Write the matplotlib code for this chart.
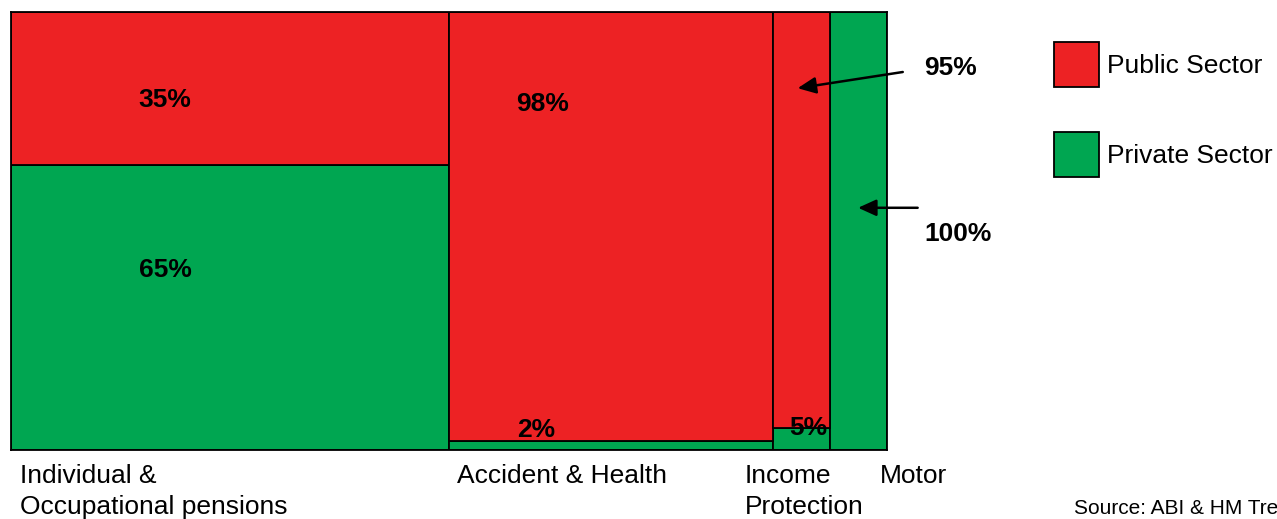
import numpy as np
import matplotlib.pyplot as plt

plt.rcParams['font.family'] = ['Liberation Sans', 'DejaVu Sans']

# market segments, column width = share of total premiums (%)
segments = ['Individual &\nOccupational pensions', 'Accident & Health', 'Income\nProtection', 'Motor']
widths = [50.0, 37.0, 6.5, 6.5]
public = [35, 98, 95, 0]
private = [65, 2, 5, 100]

RED = '#ED2224'
GREEN = '#00A651'

fig = plt.figure(figsize=(12.77, 5.19), dpi=100)
ax = fig.add_axes([11/1277, 69/519, 876/1277, 438/519])

lefts = np.concatenate([[0], np.cumsum(widths)[:-1]])
b_priv = ax.bar(lefts, private, width=widths, align='edge', color=GREEN,
                edgecolor='black', linewidth=1.3, label='Private Sector')
b_pub = ax.bar(lefts, public, width=widths, bottom=private, align='edge', color=RED,
               edgecolor='black', linewidth=1.3, label='Public Sector')

ax.set_xlim(0, sum(widths))
ax.set_ylim(0, 100)
ax.set_xticks([])
ax.set_yticks([])
for s in ax.spines.values():
    s.set_linewidth(1.3)

fs = 19
lab = dict(fontsize=fs, fontweight='bold', ha='center', va='center')
ax.text(17.6, 79.9, f'{public[0]}%', **lab)
ax.text(17.6, 41.1, f'{private[0]}%', **lab)
ax.text(60.7, 79.0, f'{public[1]}%', **lab)
ax.text(60.0, 4.6, f'{private[1]}%', **lab)
ax.text(91.0, 5.0, f'{private[2]}%', **lab)

arrow = dict(arrowstyle='-|>,head_length=0.55,head_width=0.25', color='black', lw=1.8,
             mutation_scale=20, shrinkA=0, shrinkB=0)
ax.annotate('', xy=(89.8, 82.6), xytext=(101.8, 86.3), arrowprops=arrow,
            annotation_clip=False)
ax.text(107.2, 87.2, f'{public[2]}%', **lab)
ax.annotate('', xy=(96.7, 55.3), xytext=(103.5, 55.3), arrowprops=arrow,
            annotation_clip=False)
ax.text(108.1, 49.3, f'{private[3]}%', **lab)

# segment names, left aligned under each column
name_x = [1.0, 50.9, 83.8, 99.2]
for x, name in zip(name_x, segments):
    ax.text(x, -3.1, name, fontsize=fs, ha='left', va='top', linespacing=1.37,
            clip_on=False)

fig.legend(handles=[b_pub, b_priv], loc='upper left', bbox_to_anchor=(1043/1277, 1 - 31/519),
           frameon=False, fontsize=fs, handlelength=1.74, handleheight=2.3,
           labelspacing=1.67, handletextpad=0.3, borderaxespad=0)

fig.text(1074/1277, 1 - 509/519, 'Source: ABI & HM Treasury', fontsize=15,
         ha='left', va='center')

fig.savefig('out.png', dpi=100)
